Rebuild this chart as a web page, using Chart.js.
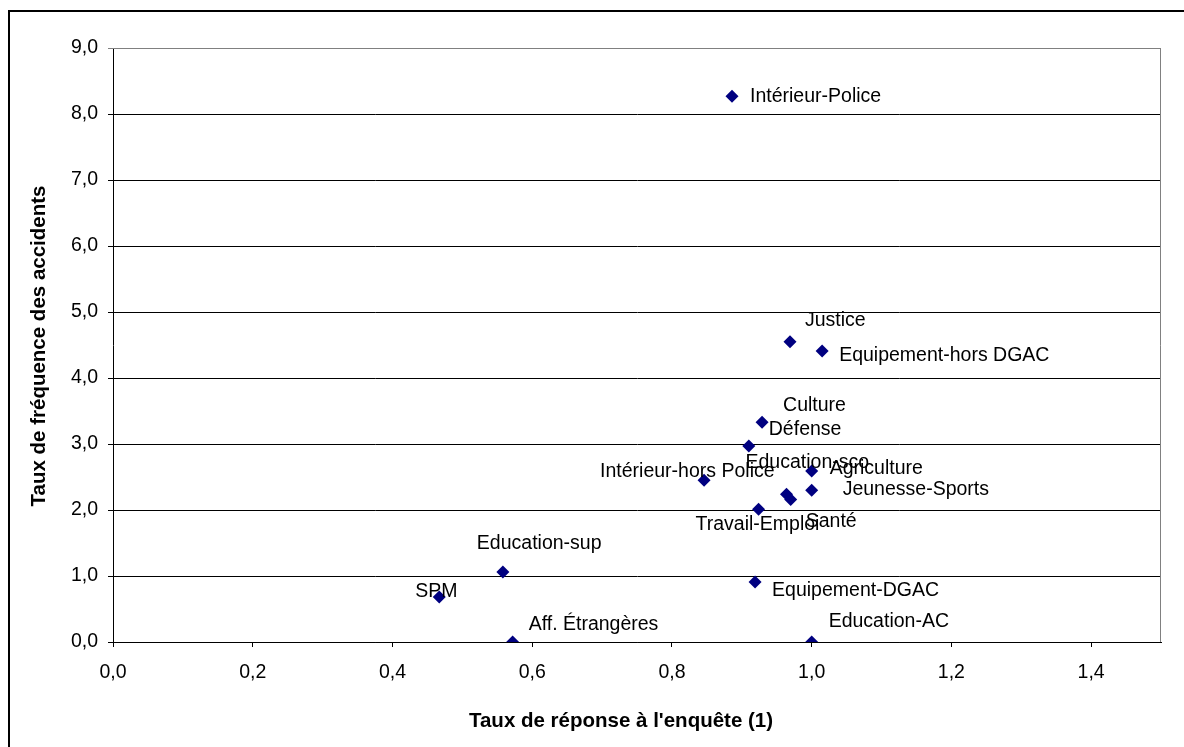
<!DOCTYPE html>
<html lang="fr">
<head>
<meta charset="utf-8">
<title>Taux de fréquence des accidents</title>
<script src="https://cdn.jsdelivr.net/npm/chart.js@4/dist/chart.umd.min.js"></script>
<style>
  html, body { margin: 0; padding: 0; background: #fff; }
  canvas { display: block; }
</style>
</head>
<body>
<canvas id="nuage" width="1184" height="747"></canvas>
<script>
// Ministères : taux de réponse à l'enquête et taux de fréquence des accidents
const ministeres = [
  'Intérieur-Police', 'Justice', 'Equipement-hors DGAC', 'Culture', 'Défense',
  'Agriculture', 'Intérieur-hors Police', 'Jeunesse-Sports', 'Education-sco', 'Santé',
  'Travail-Emploi', 'Education-sup', 'SPM', 'Equipement-DGAC', 'Aff. Étrangères', 'Education-AC'
];
const tauxReponse = [
  0.886, 0.969, 1.015, 0.929, 0.910,
  1.000, 0.846, 1.000, 0.964, 0.970,
  0.924, 0.558, 0.467, 0.919, 0.572, 1.000
];
const tauxFrequence = [
  8.27, 4.55, 4.41, 3.33, 2.97,
  2.59, 2.45, 2.30, 2.24, 2.16,
  2.01, 1.06, 0.68, 0.91, 0.00, 0.00
];
const graduationsY = [0, 1, 2, 3, 4, 5, 6, 7, 8, 9];
const graduationsX = [0, 0.2, 0.4, 0.6, 0.8, 1.0, 1.2, 1.4];

// décalage des étiquettes par rapport au point (texte aligné à gauche)
const etiquetteDx = [18, 15, 17, 21, 20, 18, -104, 31, -41, 15, -63, -26, -24, 17, 16, 17];
const etiquetteDy = [0, -21, 5, -17, -16, -2, -9, -1, -32, 22, 15, -28, -5, 9, -17, -20];

const police = '"Liberation Sans", Arial, sans-serif';
const virgule = v => v.toFixed(1).replace('.', ',');

const decor = {
  id: 'decor',
  afterDraw(chart) {
    const ctx = chart.ctx;
    const area = chart.chartArea;
    ctx.save();
    // bordure de la zone de traçage (haut et droite)
    ctx.strokeStyle = '#808080';
    ctx.lineWidth = 1;
    ctx.beginPath();
    ctx.moveTo(area.left, area.top + 0.5);
    ctx.lineTo(area.right - 0.5, area.top + 0.5);
    ctx.lineTo(area.right - 0.5, area.bottom);
    ctx.stroke();

    // cadre extérieur
    ctx.strokeStyle = '#000';
    ctx.lineWidth = 2;
    ctx.strokeRect(9, 11, 1300, 900);

    // titres des axes
    ctx.fillStyle = '#000';
    ctx.font = 'bold 20.5px ' + police;
    ctx.textAlign = 'center';
    ctx.textBaseline = 'middle';
    ctx.fillText("Taux de réponse à l'enquête (1)", 621, 721);
    ctx.translate(39, 346);
    ctx.rotate(-Math.PI / 2);
    ctx.fillText('Taux de fréquence des accidents', 0, 0);
    ctx.setTransform(1, 0, 0, 1, 0, 0);

    // étiquettes des points
    const meta = chart.getDatasetMeta(0);
    ctx.font = '19.5px ' + police;
    ctx.textAlign = 'left';
    meta.data.forEach((pt, i) => {
      ctx.fillText(ministeres[i], pt.x + etiquetteDx[i], pt.y + etiquetteDy[i]);
    });
    ctx.restore();
  }
};

new Chart(document.getElementById('nuage'), {
  type: 'scatter',
  data: {
    datasets: [{
      label: 'Ministères',
      data: tauxReponse.map((x, i) => ({ x: x, y: tauxFrequence[i] })),
      pointStyle: 'rectRot',
      pointRadius: 6.5,
      pointHoverRadius: 6.5,
      backgroundColor: '#000080',
      borderColor: '#000080',
      borderWidth: 0
    }]
  },
  options: {
    responsive: false,
    animation: false,
    layout: { padding: { top: 48, right: 23, left: 0, bottom: 0 } },
    plugins: {
      legend: { display: false },
      tooltip: { enabled: false }
    },
    scales: {
      x: {
        type: 'linear',
        min: 0,
        max: 1.5,
        afterBuildTicks: s => { s.ticks = graduationsX.map(v => ({ value: v })); },
        afterFit: s => { s.height = 105; },
        border: { color: '#000', width: 1 },
        grid: { drawOnChartArea: false, drawTicks: true, tickLength: 5, color: '#000' },
        ticks: {
          color: '#000',
          padding: 14,
          maxRotation: 0,
          font: { family: police, size: 19.5 },
          callback: v => virgule(v)
        }
      },
      y: {
        type: 'linear',
        min: 0,
        max: 9,
        afterBuildTicks: s => { s.ticks = graduationsY.map(v => ({ value: v })); },
        afterFit: s => { s.width = 113; },
        border: { color: '#000', width: 1 },
        grid: {
          tickLength: 5,
          color: c => (c.tick && c.tick.value === 9 ? '#808080' : '#000')
        },
        ticks: {
          color: '#000',
          padding: 10,
          font: { family: police, size: 19.5 },
          callback: v => virgule(v)
        }
      }
    }
  },
  plugins: [decor]
});
</script>
</body>
</html>
